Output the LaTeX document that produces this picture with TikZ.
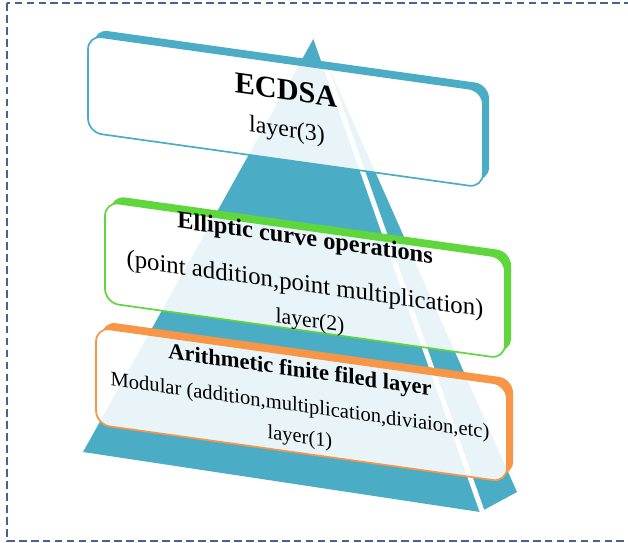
\documentclass[tikz,border=0pt]{standalone}
\usepackage{fontspec}
\setmainfont{Liberation Serif}
\usetikzlibrary{positioning}
\definecolor{pyrcolor}{RGB}{75,172,198}
\definecolor{greencolor}{RGB}{95,215,60}
\definecolor{orangecolor}{RGB}{247,150,70}
\definecolor{framecolor}{RGB}{70,100,145}

\begin{document}
\begin{tikzpicture}[x=0.025cm, y=0.025cm,
  facebox/.style={rounded corners=0.35cm, line width=1.2pt, fill=white, fill opacity=0.88},
  backbox/.style={rounded corners=0.35cm},
  txt/.style={anchor=base, transform shape, inner sep=0pt}
]
\useasboundingbox (0,0) rectangle (628,542);
\draw[framecolor, line width=1pt, dash pattern=on 5.5pt off 3pt] (7,539) rectangle (660,1);

% pyramid
\coordinate (apex) at (315,506);
\coordinate (baseL) at (83,90);
\coordinate (baseM) at (480,30);
\coordinate (baseR) at (517,50);
\coordinate (edgeend) at (483,28);
\fill[pyrcolor] (apex) -- (baseL) -- (baseM) -- (baseR) -- cycle;
\draw[white, line width=3.5pt] (apex) -- (edgeend);

\begin{scope}[yslant=-0.14]
% layer boxes, raised edge on top and right
\foreach \col/\ua/\va/\ub/\vb in {pyrcolor/88/422/483/519,
    greencolor/105/254/505/355, orangecolor/96/131/507/228}{
  \begin{scope}[rounded corners=0.35cm]
    \clip (0,0) -- (700,0) -- (700,700) -- (0,700) -- cycle
      (\ua,\va) -- (\ua,\vb) -- (\ub,\vb) -- (\ub,\va) -- cycle;
    \fill[\col, backbox] (\ua+6,\va+7) rectangle (\ub+6,\vb+7);
  \end{scope}
  \draw[\col, facebox] (\ua,\va) rectangle (\ub,\vb);
}

\node[txt, font=\fontsize{21.5}{24}\selectfont\bfseries] (ecdsa) at (286,482) {ECDSA};
\node[txt, font=\fontsize{17}{20}\selectfont] (lay3) at (287,445) {layer(3)};

\node[txt, font=\fontsize{17.3}{20}\selectfont\bfseries] (ell) at (305,339) {Elliptic curve operations};
\node[txt, font=\fontsize{17.6}{20}\selectfont] (pnt) at (305,293) {(point addition,point multiplication)};
\node[txt, font=\fontsize{15.5}{18}\selectfont] (lay2) at (310,258) {layer(2)};

\node[txt, font=\fontsize{16}{19}\selectfont\bfseries] (arith) at (300,207) {Arithmetic finite filed layer};
\node[txt, font=\fontsize{14.6}{17}\selectfont] (modu) at (300,172) {Modular (addition,multiplication,diviaion,etc)};
\node[txt, font=\fontsize{14.5}{17}\selectfont] (lay1) at (300,141) {layer(1)};
\end{scope}
\end{tikzpicture}
\end{document}
